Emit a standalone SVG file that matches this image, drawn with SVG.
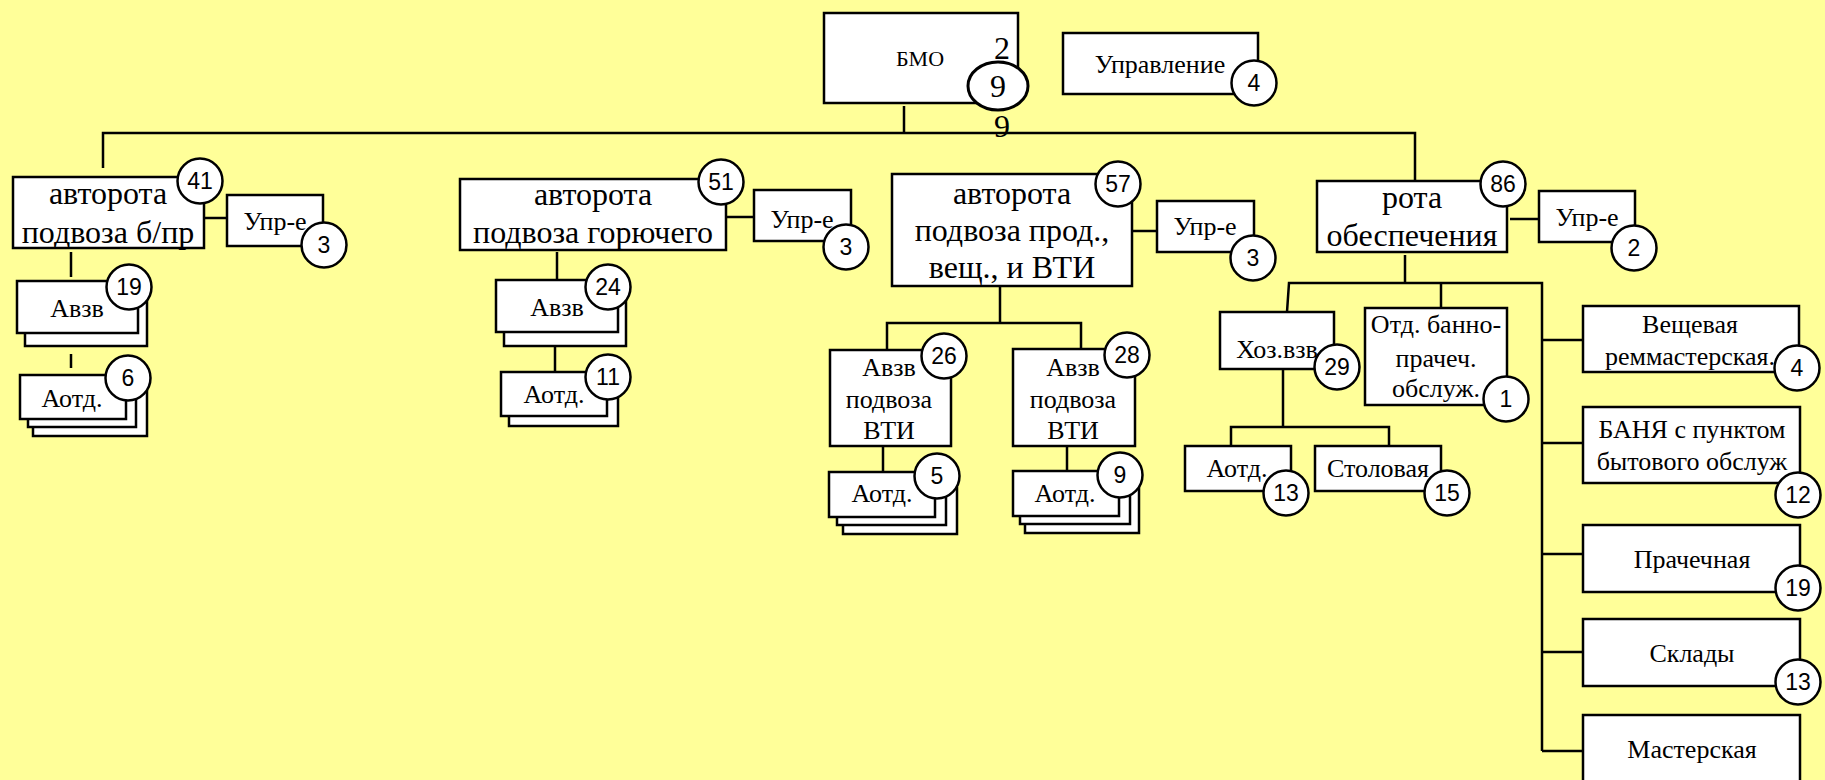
<svg xmlns="http://www.w3.org/2000/svg" width="1825" height="780" viewBox="0 0 1825 780">
<style>
.bg{fill:#FFFF99}
.b{fill:#fff;stroke:#000;stroke-width:2.5}
.c{fill:#fff;stroke:#000;stroke-width:2.5}
.ln{fill:none;stroke:#000;stroke-width:2.5}
.t32{font-family:"Liberation Serif","Times New Roman",serif;font-size:32px;text-anchor:middle;fill:#000}
.t26{font-family:"Liberation Serif","Times New Roman",serif;font-size:26px;text-anchor:middle;fill:#000}
.t22{font-family:"Liberation Serif","Times New Roman",serif;font-size:22px;text-anchor:middle;fill:#000}
.n{font-family:"Liberation Sans",Arial,sans-serif;font-size:23px;text-anchor:middle;fill:#000}
</style>
<rect class="bg" x="0" y="0" width="1825" height="780"/>
<g id="connectors">
<path class="ln" d="M103 168 V133 H1415 V181"/>
<path class="ln" d="M904 106 V133"/>
<path class="ln" d="M204 218 H227"/>
<path class="ln" d="M71 252 V277"/>
<path class="ln" d="M71 354 V368"/>
<path class="ln" d="M726 217 H754"/>
<path class="ln" d="M557 252 V280"/>
<path class="ln" d="M555 346 V372"/>
<path class="ln" d="M1132 231 H1157"/>
<path class="ln" d="M1000 286 V323"/>
<path class="ln" d="M887 350 V323 H1081 V349"/>
<path class="ln" d="M883 446 V472"/>
<path class="ln" d="M1067 446 V471"/>
<path class="ln" d="M1510 219 H1539"/>
<path class="ln" d="M1405 255 V283"/>
<path class="ln" d="M1287 312 L1289 283 H1542 V751"/>
<path class="ln" d="M1441 284 V308"/>
<path class="ln" d="M1542 340 H1583"/>
<path class="ln" d="M1542 443 H1583"/>
<path class="ln" d="M1542 554 H1583"/>
<path class="ln" d="M1542 652 H1583"/>
<path class="ln" d="M1542 751 H1583"/>
<path class="ln" d="M1283 369 V427"/>
<path class="ln" d="M1231 447 V427 H1389 V446"/>
</g>
<g id="bmo">
<rect class="b" x="824" y="13" width="194" height="90"/>
<text class="t22" x="920" y="66">БМО</text>
<text class="t32" x="1002" y="59">2</text>
<ellipse class="c" cx="998" cy="86" rx="30" ry="24" style="stroke-width:3"/>
<text class="t32" x="998" y="97">9</text>
<text class="t32" x="1002" y="137">9</text>
</g>
<g id="upravlenie">
<rect class="b" x="1063" y="33" width="195" height="61"/>
<text class="t26" x="1160" y="73">Управление</text>
<circle class="c" cx="1254" cy="83" r="22.5"/>
<text class="n" x="1254" y="91">4</text>
</g>
<g id="avtorota-bpr">
<rect class="b" x="13" y="177" width="191" height="71"/>
<text class="t32" x="108" y="204">авторота</text>
<text class="t32" x="108" y="243">подвоза б/пр</text>
<circle class="c" cx="200" cy="181" r="22.5"/>
<text class="n" x="200" y="189">41</text>
</g>
<g id="upr-1">
<rect class="b" x="227" y="195" width="96" height="51"/>
<text class="t26" x="275" y="230">Упр-е</text>
<circle class="c" cx="324" cy="245" r="22.5"/>
<text class="n" x="324" y="253">3</text>
</g>
<g id="avzv-19">
<rect class="b" x="25" y="290" width="122" height="56"/>
<rect class="b" x="17" y="281" width="121" height="52"/>
<text class="t26" x="77" y="317">Авзв</text>
<circle class="c" cx="129" cy="287" r="22.5"/>
<text class="n" x="129" y="295">19</text>
</g>
<g id="aotd-6">
<rect class="b" x="33" y="391" width="114" height="45"/>
<rect class="b" x="28" y="383" width="108" height="44"/>
<rect class="b" x="20" y="375" width="106" height="44"/>
<text class="t26" x="72" y="407">Аотд.</text>
<circle class="c" cx="128" cy="378" r="22.5"/>
<text class="n" x="128" y="386">6</text>
</g>
<g id="avtorota-gor">
<rect class="b" x="460" y="179" width="266" height="71"/>
<text class="t32" x="593" y="205">авторота</text>
<text class="t32" x="593" y="243">подвоза горючего</text>
<circle class="c" cx="721" cy="182" r="22.5"/>
<text class="n" x="721" y="190">51</text>
</g>
<g id="upr-2">
<rect class="b" x="754" y="190" width="97" height="51"/>
<text class="t26" x="802" y="228">Упр-е</text>
<circle class="c" cx="846" cy="247" r="22.5"/>
<text class="n" x="846" y="255">3</text>
</g>
<g id="avzv-24">
<rect class="b" x="504" y="290" width="122" height="56"/>
<rect class="b" x="496" y="280" width="122" height="52"/>
<text class="t26" x="557" y="316">Авзв</text>
<circle class="c" cx="608" cy="287" r="22.5"/>
<text class="n" x="608" y="295">24</text>
</g>
<g id="aotd-11">
<rect class="b" x="509" y="382" width="109" height="44"/>
<rect class="b" x="501" y="372" width="106" height="44"/>
<text class="t26" x="554" y="403">Аотд.</text>
<circle class="c" cx="608" cy="377" r="22.5"/>
<text class="n" x="608" y="385">11</text>
</g>
<g id="avtorota-prod">
<rect class="b" x="892" y="174" width="240" height="112"/>
<text class="t32" x="1012" y="204">авторота</text>
<text class="t32" x="1012" y="241">подвоза прод.,</text>
<text class="t32" x="1012" y="278">вещ., и ВТИ</text>
<circle class="c" cx="1118" cy="184" r="22.5"/>
<text class="n" x="1118" y="192">57</text>
</g>
<g id="upr-3">
<rect class="b" x="1157" y="201" width="97" height="51"/>
<text class="t26" x="1205" y="235">Упр-е</text>
<circle class="c" cx="1253" cy="258" r="22.5"/>
<text class="n" x="1253" y="266">3</text>
</g>
<g id="avzv-26">
<rect class="b" x="830" y="350" width="121" height="96"/>
<text class="t26" x="889" y="376">Авзв</text>
<text class="t26" x="889" y="408">подвоза</text>
<text class="t26" x="889" y="439">ВТИ</text>
<circle class="c" cx="944" cy="356" r="22.5"/>
<text class="n" x="944" y="364">26</text>
</g>
<g id="avzv-28">
<rect class="b" x="1013" y="349" width="122" height="97"/>
<text class="t26" x="1073" y="376">Авзв</text>
<text class="t26" x="1073" y="408">подвоза</text>
<text class="t26" x="1073" y="439">ВТИ</text>
<circle class="c" cx="1127" cy="355" r="22.5"/>
<text class="n" x="1127" y="363">28</text>
</g>
<g id="aotd-5">
<rect class="b" x="843" y="488" width="114" height="46"/>
<rect class="b" x="837" y="480" width="109" height="45"/>
<rect class="b" x="829" y="472" width="106" height="45"/>
<text class="t26" x="882" y="502">Аотд.</text>
<circle class="c" cx="937" cy="476" r="22.5"/>
<text class="n" x="937" y="484">5</text>
</g>
<g id="aotd-9">
<rect class="b" x="1025" y="487" width="114" height="46"/>
<rect class="b" x="1020" y="479" width="110" height="45"/>
<rect class="b" x="1013" y="471" width="106" height="45"/>
<text class="t26" x="1065" y="502">Аотд.</text>
<circle class="c" cx="1120" cy="475" r="22.5"/>
<text class="n" x="1120" y="483">9</text>
</g>
<g id="rota-obesp">
<rect class="b" x="1317" y="181" width="190" height="71"/>
<text class="t32" x="1412" y="208">рота</text>
<text class="t32" x="1412" y="246">обеспечения</text>
<circle class="c" cx="1503" cy="184" r="22.5"/>
<text class="n" x="1503" y="192">86</text>
</g>
<g id="upr-4">
<rect class="b" x="1539" y="191" width="96" height="51"/>
<text class="t26" x="1587" y="226">Упр-е</text>
<circle class="c" cx="1634" cy="248" r="22.5"/>
<text class="n" x="1634" y="256">2</text>
</g>
<g id="hoz-vzv">
<rect class="b" x="1220" y="312" width="114" height="57"/>
<text class="t26" x="1277" y="358">Хоз.взв</text>
<circle class="c" cx="1337" cy="367" r="22.5"/>
<text class="n" x="1337" y="375">29</text>
</g>
<g id="otd-banno">
<rect class="b" x="1365" y="308" width="142" height="97"/>
<text class="t26" x="1436" y="333">Отд. банно-</text>
<text class="t26" x="1436" y="367">прачеч.</text>
<text class="t26" x="1436" y="397">обслуж.</text>
<circle class="c" cx="1506" cy="399" r="22.5"/>
<text class="n" x="1506" y="407">1</text>
</g>
<g id="aotd-13">
<rect class="b" x="1185" y="446" width="106" height="45"/>
<text class="t26" x="1237" y="477">Аотд.</text>
<circle class="c" cx="1286" cy="493" r="22.5"/>
<text class="n" x="1286" y="501">13</text>
</g>
<g id="stolovaya">
<rect class="b" x="1315" y="446" width="126" height="45"/>
<text class="t26" x="1378" y="477">Столовая</text>
<circle class="c" cx="1447" cy="493" r="22.5"/>
<text class="n" x="1447" y="501">15</text>
</g>
<g id="veshch-rem">
<rect class="b" x="1583" y="306" width="216" height="66"/>
<text class="t26" x="1690" y="333">Вещевая</text>
<text class="t26" x="1690" y="365">реммастерская.</text>
<circle class="c" cx="1797" cy="368" r="22.5"/>
<text class="n" x="1797" y="376">4</text>
</g>
<g id="banya">
<rect class="b" x="1583" y="407" width="217" height="76"/>
<text class="t26" x="1692" y="438">БАНЯ с пунктом</text>
<text class="t26" x="1692" y="470">бытового обслуж</text>
<circle class="c" cx="1798" cy="495" r="22.5"/>
<text class="n" x="1798" y="503">12</text>
</g>
<g id="prachechnaya">
<rect class="b" x="1583" y="525" width="217" height="67"/>
<text class="t26" x="1692" y="568">Прачечная</text>
<circle class="c" cx="1798" cy="588" r="22.5"/>
<text class="n" x="1798" y="596">19</text>
</g>
<g id="sklady">
<rect class="b" x="1583" y="619" width="217" height="67"/>
<text class="t26" x="1692" y="662">Склады</text>
<circle class="c" cx="1798" cy="682" r="22.5"/>
<text class="n" x="1798" y="690">13</text>
</g>
<g id="masterskaya">
<rect class="b" x="1583" y="715" width="217" height="80"/>
<text class="t26" x="1692" y="758">Мастерская</text>
</g>
</svg>
